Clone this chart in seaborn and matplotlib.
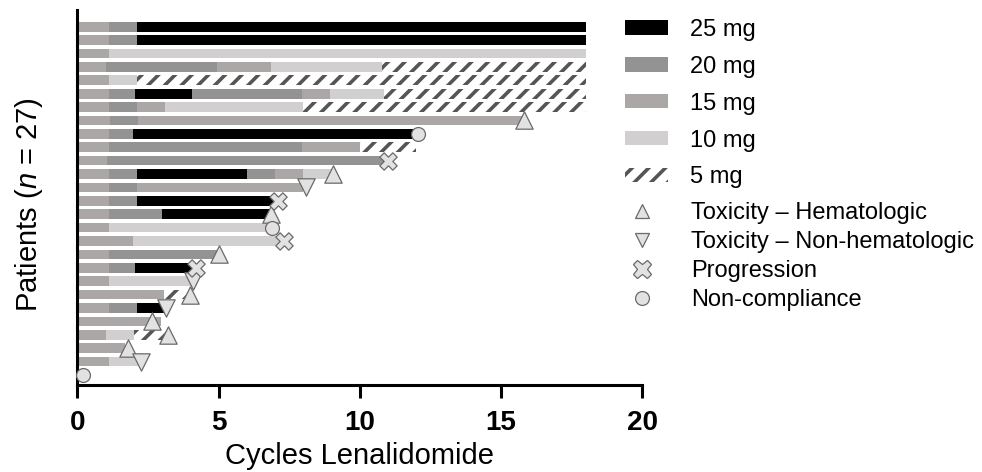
import numpy as np
import pandas as pd
import matplotlib
matplotlib.use("Agg")
import matplotlib.pyplot as plt
import seaborn as sns
from matplotlib.patches import Patch
from matplotlib.lines import Line2D

# dose sequence per patient (top to bottom) and the cycle at which each dose level ends
dose_seq = [
    [15, 20, 25], [15, 20, 25], [15, 10], [15, 20, 15, 10, 5], [15, 10, 5],
    [15, 20, 25, 20, 15, 10, 5], [15, 20, 15, 10, 5], [15, 20, 15], [15, 20, 25],
    [15, 20, 15, 5], [15, 20], [15, 20, 25, 20, 15, 10], [15, 20, 15], [15, 20, 25],
    [15, 20, 25], [15, 10], [15, 10], [15, 20], [15, 20, 25], [15, 10], [15, 5],
    [15, 20, 25], [15], [15, 10, 5], [15], [15, 10], [],
]
dose_ends = [
    [1.1, 2.1, 18.0], [1.1, 2.1, 18.0], [1.1, 18.0], [1.0, 4.95, 6.85, 10.8, 18.0],
    [1.1, 2.1, 18.0], [1.1, 2.05, 4.05, 7.95, 8.95, 10.85, 18.0],
    [1.1, 2.1, 3.1, 8.0, 18.0], [1.15, 2.15, 15.8], [1.1, 1.95, 12.05],
    [1.1, 7.95, 10.0, 12.0], [1.05, 11.0], [1.1, 2.1, 6.0, 7.0, 8.0, 9.05],
    [1.1, 2.1, 8.0], [1.1, 2.1, 7.1], [1.1, 3.0, 6.85], [1.1, 6.9], [1.95, 7.25],
    [1.1, 5.0], [1.1, 2.05, 4.2], [1.1, 4.1], [3.05, 4.0], [1.1, 2.1, 3.05],
    [2.95], [1.0, 2.0, 3.2], [1.7], [1.1, 2.2], [],
]

# end-of-treatment events
event_patient = [7, 8, 10, 11, 12, 13, 14, 15, 16, 17, 18, 19, 20, 21, 22, 23, 24, 25, 26]
event_time = [15.8, 12.05, 11.0, 9.05, 8.1, 7.1, 6.85, 6.9, 7.3, 5.0, 4.2, 4.1, 4.0,
              3.15, 2.65, 3.2, 1.8, 2.25, 0.2]
event_type = ["Toxicity – Hematologic", "Non-compliance", "Progression",
              "Toxicity – Hematologic", "Toxicity – Non-hematologic", "Progression",
              "Toxicity – Hematologic", "Non-compliance", "Progression",
              "Toxicity – Hematologic", "Progression", "Toxicity – Non-hematologic",
              "Toxicity – Hematologic", "Toxicity – Non-hematologic",
              "Toxicity – Hematologic", "Toxicity – Hematologic",
              "Toxicity – Hematologic", "Toxicity – Non-hematologic", "Non-compliance"]

dose_levels = [25, 20, 15, 10, 5]
dose_colors = {25: "#000000", 20: "#939393", 15: "#aba7a7", 10: "#d1cfcf", 5: "white"}
# marker, size in plot, size in legend
event_markers = {"Toxicity – Hematologic": ("^", 12.5, 10),
                 "Toxicity – Non-hematologic": ("v", 12.5, 10),
                 "Progression": ("X", 12.5, 13),
                 "Non-compliance": ("o", 10, 10)}

rows = []
for i, (doses, ends) in enumerate(zip(dose_seq, dose_ends)):
    start = 0.0
    for d, e in zip(doses, ends):
        rows.append({"patient": i, "dose": d, "start": start, "width": e - start})
        start = e
seg = pd.DataFrame(rows)
ev = pd.DataFrame({"patient": event_patient, "time": event_time, "event": event_type})

sns.set_style("white")
plt.rcParams["font.family"] = ["Liberation Sans", "DejaVu Sans"]
plt.rcParams["mathtext.fontset"] = "custom"
plt.rcParams["mathtext.it"] = "Liberation Sans:italic"
plt.rcParams["hatch.linewidth"] = 2.6
for k in ["text.color", "axes.labelcolor", "xtick.color", "ytick.color"]:
    plt.rcParams[k] = "black"

fig = plt.figure(figsize=(9.82, 4.72), dpi=100)
ax = fig.add_axes([0.0789, 0.1843, 0.575, 0.7945])

for d in dose_levels:
    sub = seg[seg["dose"] == d]
    if d == 5:
        ax.barh(sub["patient"], sub["width"], left=sub["start"], height=0.72,
                color="white", edgecolor="#555555", hatch="//", linewidth=0)
    else:
        ax.barh(sub["patient"], sub["width"], left=sub["start"], height=0.72,
                color=dose_colors[d], linewidth=0)

for name, (m, ms, _) in event_markers.items():
    sub = ev[ev["event"] == name]
    sns.scatterplot(data=sub, x="time", y="patient", marker=m, s=ms ** 2,
                    color="#e2e2e2", edgecolor="#6a6a6a", linewidth=0.9,
                    zorder=5, clip_on=False, legend=False, ax=ax)

ax.set_xlim(0, 20)
ax.set_ylim(26.75, -1.25)
ax.set_yticks([])
ax.set_xticks([0, 5, 10, 15, 20])
ax.tick_params(axis="x", direction="out", length=9.5, width=2.2, pad=8.5,
               bottom=True, colors="black")
for lab in ax.get_xticklabels():
    lab.set_family(["Liberation Sans Narrow", "Liberation Sans"])
    lab.set_fontweight("bold")
    lab.set_fontsize(20)
sns.despine(ax=ax)
for s in ["left", "bottom"]:
    ax.spines[s].set_linewidth(2.2)
    ax.spines[s].set_color("black")

ax.set_xlabel("Cycles Lenalidomide", fontsize=21)
ax.xaxis.set_label_coords(0.5, -0.153)
ax.set_ylabel("Patients ($\\mathit{n}$ = 27)", fontsize=21)
ax.yaxis.set_label_coords(-0.058, 0.48)

dose_handles = []
for d in dose_levels:
    if d == 5:
        dose_handles.append(Patch(facecolor="white", edgecolor="#555555", hatch="//",
                                  linewidth=0, label=f"{d} mg"))
    else:
        dose_handles.append(Patch(facecolor=dose_colors[d], linewidth=0, label=f"{d} mg"))
fig.legend(handles=dose_handles, loc="upper left", bbox_to_anchor=(0.636, 0.96),
           frameon=False, fontsize=17, handlelength=1.86, handleheight=0.55,
           handletextpad=0.9, labelspacing=0.63, borderpad=0, borderaxespad=0)

ev_handles = [Line2D([], [], linestyle="none", marker=m, markersize=lms,
                     markerfacecolor="#e2e2e2", markeredgecolor="#6a6a6a",
                     markeredgewidth=0.9, label=name)
              for name, (m, _, lms) in event_markers.items()]
fig.legend(handles=ev_handles, loc="upper left", bbox_to_anchor=(0.636, 0.571),
           frameon=False, fontsize=17, handlelength=1.5, handletextpad=1.3,
           labelspacing=0.29, borderpad=0, borderaxespad=0)

fig.savefig("out.png", dpi=100)
